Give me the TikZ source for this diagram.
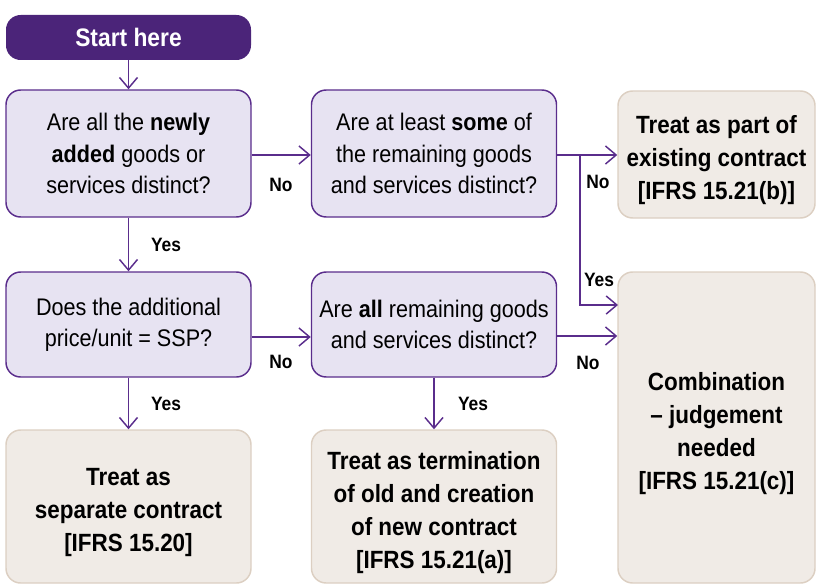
\documentclass[tikz,border=0pt]{standalone}
\usepackage{fontspec}
\setmainfont{Liberation Sans}[FakeStretch=0.9]
\usetikzlibrary{arrows.meta,calc}
\definecolor{darkpurple}{HTML}{4B2479}
\definecolor{linepurple}{HTML}{5A2D8C}
\definecolor{lavender}{HTML}{E7E3F2}
\definecolor{beige}{HTML}{F0EBE6}
\definecolor{beigeline}{HTML}{DCCFC2}
\newcommand{\toppad}{\rule{0pt}{22.5pt}}
\begin{document}
\begin{tikzpicture}[x=0.75pt,y=-0.75pt,
  box/.style={rectangle, rounded corners=11pt, inner sep=0pt, align=center, anchor=center},
  qbox/.style={box, draw=linepurple, fill=lavender, line width=1.1pt, font=\fontsize{18}{23.5}\selectfont},
  rbox/.style={box, draw=beigeline, fill=beige, line width=1.1pt, font=\fontsize{18.7}{24.75}\selectfont\bfseries},
  startbox/.style={box, fill=darkpurple, text=white, font=\fontsize{19}{22}\selectfont\bfseries},
  arr/.style={draw=linepurple, line width=1.1pt, -{Straight Barb[length=8pt,width=13.5pt]}},
  lnk/.style={draw=linepurple, line width=1.1pt},
  lbl/.style={font=\fontsize{14.5}{17}\selectfont\bfseries, inner sep=0pt}
]
\useasboundingbox (0,0) rectangle (817,585);

\node[startbox, minimum width=183.75pt, minimum height=33.75pt] (start) at (128.5,37.5) {Start here};

\node[qbox, minimum width=183.75pt, minimum height=95.25pt] (q1) at (128.5,153.5)
  {Are all the \textbf{newly}\\\textbf{added} goods or\\services distinct?};
\node[qbox, minimum width=183.75pt, minimum height=95.25pt] (q2) at (434,153.5)
  {Are at least \textbf{some} of\\the remaining goods\\and services distinct?};
\node[rbox, minimum width=147.75pt, minimum height=95.25pt] (r1) at (716.5,154.5)
  {\toppad Treat as part of\\existing contract\\{[IFRS 15.21(b)]}};

\node[qbox, minimum width=183.75pt, minimum height=78.75pt] (q3) at (128.5,324.5)
  {Does the additional\\price/unit = SSP?};
\node[qbox, minimum width=183.75pt, minimum height=78.75pt] (q4) at (434,324.5)
  {Are \textbf{all} remaining goods\\and services distinct?};
\node[rbox, minimum width=147.75pt, minimum height=233.25pt] (r4) at (716.5,427.5)
  {\toppad Combination\\– judgement\\needed\\{[IFRS 15.21(c)]}};

\node[rbox, minimum width=183.75pt, minimum height=114.75pt] (r2) at (128.5,506.5)
  {\toppad Treat as\\separate contract\\{[IFRS 15.20]}};
\node[rbox, minimum width=183.75pt, minimum height=114.75pt] (r3) at (434,506.5)
  {\toppad Treat as termination\\of old and creation\\of new contract\\{[IFRS 15.21(a)]}};

\coordinate (j) at (580,155);
\coordinate (yesin) at (618,305);

\draw[arr] (start.south) -- (q1.north);
\draw[arr] (q1.east |- 0,155) -- (q2.west |- 0,155);
\draw[arr] (q2.east |- 0,155) -- (r1.west |- 0,155);
\draw[arr] (j) |- (yesin);
\draw[arr] (q1.south) -- (q3.north);
\draw[arr] (q3.east |- 0,337) -- (q4.west |- 0,337);
\draw[arr] (q4.east |- 0,336) -- (r4.west |- 0,336);
\draw[arr] (q3.south) -- (r2.north);
\draw[arr] (q4.south) -- (r3.north);

\node[lbl] (l1) at (281,185) {No};
\node[lbl] (l2) at (598,182) {No};
\node[lbl] (l3) at (599,280) {Yes};
\node[lbl] (l4) at (166,245) {Yes};
\node[lbl] (l5) at (281,362) {No};
\node[lbl] (l6) at (588,363) {No};
\node[lbl] (l7) at (166,404) {Yes};
\node[lbl] (l8) at (473,404) {Yes};
\end{tikzpicture}
\end{document}
